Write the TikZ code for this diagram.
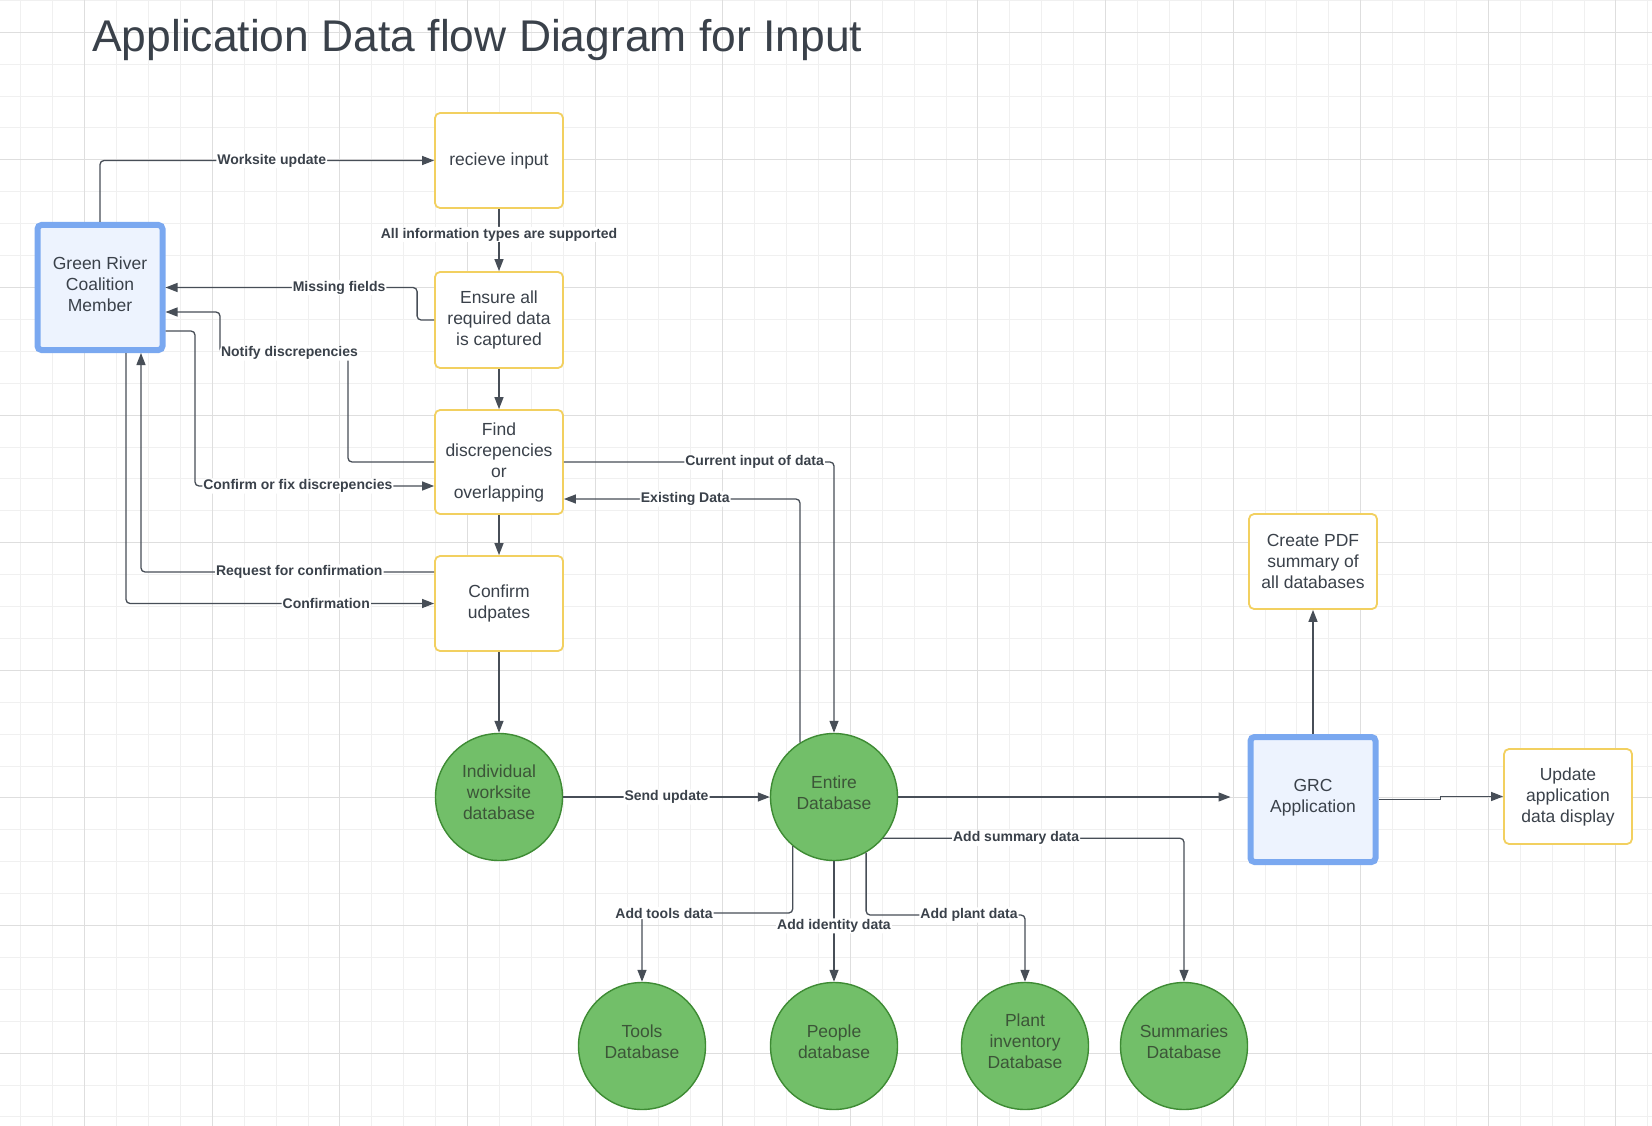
\documentclass[tikz,border=0pt]{standalone}
\usepackage{fontspec}
\setmainfont{Liberation Sans}
\usetikzlibrary{arrows.meta,calc}
\definecolor{ink}{HTML}{3A414A}
\definecolor{linec}{HTML}{474E57}
\definecolor{ybord}{HTML}{F2D060}
\definecolor{bbord}{HTML}{7AA8F0}
\definecolor{bfill}{HTML}{EDF3FE}
\definecolor{gfill}{HTML}{72BF69}
\definecolor{gbord}{HTML}{3E8B34}
\definecolor{gtext}{HTML}{3C5538}
\definecolor{gridmin}{HTML}{F0F0F0}
\definecolor{gridmaj}{HTML}{DEDEDE}
\newcommand\uptext[2]{\raisebox{#1}[\height][\depth]{\begin{tabular}{@{}c@{}}#2\end{tabular}}}
\begin{document}
\begin{tikzpicture}[x=1pt,y=-1pt,
  proc/.style={draw=ybord, line width=1.8pt, fill=white, rounded corners=5pt,
    minimum width=128pt, minimum height=95pt, inner sep=0pt, align=center,
    text=ink, font=\fontsize{17.5}{21}\selectfont},
  actor/.style={draw=bbord, line width=6pt, fill=bfill, rounded corners=4pt,
    minimum width=125pt, minimum height=125pt, inner sep=0pt, outer sep=3pt,
    text=ink, font=\fontsize{17.5}{21}\selectfont},
  db/.style={circle, draw=gbord, line width=1.4pt, fill=gfill, minimum size=127pt,
    inner sep=0pt, text=gtext, font=\fontsize{17.5}{21}\selectfont},
  conn/.style={draw=linec, line width=1.3pt, rounded corners=4pt,
    -{Triangle[length=12pt,width=9pt]}},
  lbl/.style={fill=white, inner sep=1pt, text=ink,
    font=\fontsize{14}{16}\selectfont\bfseries},
  gmin/.style={draw=gridmin, line width=1pt},
  gmaj/.style={draw=gridmaj, line width=1pt}]
\useasboundingbox (0,0) rectangle (1652,1126);
\fill[white] (0,0) rectangle (1652,1126);
% grid
\foreach \i in {0,...,51}{\pgfmathsetmacro\xx{20.9+31.9*\i}\draw[gmin] (\xx,0) -- (\xx,1126);}
\foreach \i in {0,...,35}{\pgfmathsetmacro\yy{0.4+31.9*\i}\draw[gmin] (0,\yy) -- (1652,\yy);}
\foreach \i in {0,...,12}{\pgfmathsetmacro\xx{84.7+127.6*\i}\draw[gmaj] (\xx,0) -- (\xx,1126);}
\foreach \i in {0,...,8}{\pgfmathsetmacro\yy{32.3+127.6*\i}\draw[gmaj] (0,\yy) -- (1652,\yy);}

% title
\node[anchor=base west, inner sep=0pt, text=ink, font=\fontsize{44.4}{50}\selectfont] (title) at (92,52) {Application Data flow Diagram for Input};

% nodes
\node[actor] (member) at (100,287.5) {\uptext{1pt}{Green River\\Coalition\\Member}};
\node[proc] (recv) at (499,160.5) {recieve input};
\node[proc, minimum height=96pt] (ensure) at (499,320) {Ensure all\\required data\\is captured};
\node[proc, minimum height=104pt] (find) at (499,462) {Find\\discrepencies\\or\\overlapping};
\node[proc] (confirm) at (499,603.5) {Confirm\\udpates};
\node[db] (indiv) at (499,797) {\uptext{3pt}{Individual\\worksite\\database}};
\node[db] (entire) at (834,797) {\uptext{2.5pt}{Entire\\Database}};
\node[actor] (grc) at (1313,799.5) {\uptext{2pt}{GRC\\Application}};
\node[proc] (pdf) at (1313,561.5) {Create PDF\\summary of\\all databases};
\node[proc] (update) at (1568,796.5) {Update\\application\\data display};
\node[db] (tools) at (642,1046) {\uptext{2.5pt}{Tools\\Database}};
\node[db] (people) at (834,1046) {\uptext{2.5pt}{People\\database}};
\node[db] (plant) at (1025,1046) {\uptext{3pt}{Plant\\inventory\\Database}};
\node[db] (summ) at (1184,1046) {\uptext{2.5pt}{Summaries\\Database}};

% connectors
\draw[conn] (member.north) |- node[lbl,pos=0.757]{Worksite update} (recv.west);
\draw[conn] (recv.south) -- node[lbl,pos=0.41]{All information types are supported} (ensure.north);
\draw[conn] (ensure.west) -- ++(-17,0) |- node[lbl,pos=0.655]{Missing fields} (member.east);
\draw[conn] (find.west) -| (348,353) -- node[lbl,pos=0.457]{Notify discrepencies} (220,353) |- (member.east |- 0,312);
\draw[conn] (member.east |- 0,331) -| (195,486) -- node[lbl,pos=0.43]{Confirm or fix discrepencies} (find.west |- 0,486);
\draw[conn] (confirm.west |- 0,572) -| node[lbl,pos=0.23]{Request for confirmation} (member.south -| 141,0);
\draw[conn] (member.south -| 126,0) |- node[lbl,pos=0.825]{Confirmation} (confirm.west);
\draw[conn] (ensure.south) -- (find.north);
\draw[conn] (find.south) -- (confirm.north);
\draw[conn] (confirm.south) -- (indiv.north);
\draw[conn] (find.east) -| node[lbl,pos=0.353]{Current input of data} (entire.north);
\draw[conn] (entire.122) |- node[lbl,pos=0.743]{Existing Data} (find.east |- 0,499);
\draw[conn] (indiv.east) -- node[lbl]{Send update} (entire.west);
\draw[conn, shorten >=17pt] (entire.east) -- (grc.west |- entire.east);
\draw[conn] (grc.north) -- (pdf.south);
\draw[conn, rounded corners=0pt] (grc.east) -- ++(62,0) -- ++(0,-3) -- (update.west);
\draw[conn] (entire.230) |- node[lbl,pos=0.927]{Add tools data} (tools.north |- 0,913) -- (tools.north);
\draw[conn] (entire.south) -- node[lbl,pos=0.537]{Add identity data} (people.north);
\draw[conn] (entire.300) |- node[lbl,pos=0.824]{Add plant data} (plant.north |- 0,915) -- (plant.north);
\draw[conn] (entire.320) -| node[lbl,pos=0.221]{Add summary data} (summ.north);
\end{tikzpicture}
\end{document}
